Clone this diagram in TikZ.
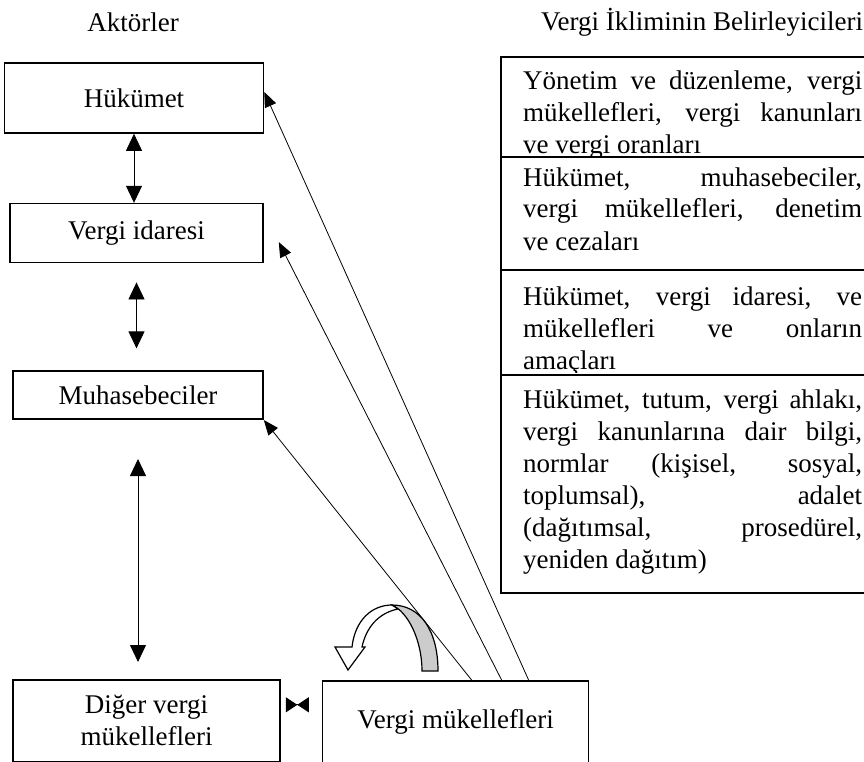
\documentclass[tikz,border=0pt]{standalone}
\usepackage{fontspec}
\setmainfont{Liberation Serif}
\usetikzlibrary{positioning}
\usetikzlibrary{arrows.meta}
\usetikzlibrary{calc}

\begin{document}
\begin{tikzpicture}[x=1pt,y=-1pt,>={Triangle[length=15pt,width=12pt]},
    font=\fontsize{27}{32}\selectfont,
    box/.style={draw,line width=1.6pt,inner sep=0pt,align=center},
    link/.style={line width=0.8pt,->},
    both/.style={line width=0.8pt,{Triangle[length=17pt,width=16pt]}-{Triangle[length=17pt,width=16pt]}},
    bow/.style={line width=0.8pt,{Triangle[reversed,length=11.5pt,width=15pt]}-{Triangle[reversed,length=11.5pt,width=15pt]}},
    cell/.style={anchor=base west,inner sep=0pt,text width=339pt,align=justify}]
    \useasboundingbox (0,0) rectangle (864,762);
    \node (T1) at (133,22) {Aktörler};
    \node (T2) at (702,22) {Vergi İkliminin Belirleyicileri};
    % actors
    \node[box,minimum width=259pt,minimum height=70pt] (H) at (134,98) {Hükümet};
    \node[box,minimum width=253pt,minimum height=59pt] (VI) [below=69pt of H,xshift=2.5pt] {Vergi idaresi};
    \node[box,minimum width=250pt,minimum height=48pt] (M) [below=107pt of VI,xshift=1.5pt] {Muhasebeciler};
    \node[box,minimum width=267pt,minimum height=82pt] (D) [below=259pt of M,xshift=8.5pt] {Diğer vergi\\mükellefleri};
    \node[box,minimum width=266pt,minimum height=82pt] (VM) [right=41pt of D,yshift=-1pt] {Vergi mükellefleri};
    \draw [both] (H.south) -- (H.south |- VI.north);
    \draw [both,shorten <=19pt,shorten >=22pt] (VI.south) -- (VI.south |- M.north);
    \draw [both,shorten <=39pt,shorten >=17pt] (M.south) -- (M.south |- D.north);
    \draw [bow] ($(D.east)+(5pt,16pt)$) -- ($(D.east)+(28pt,16pt)$);
    \draw [link] ($(VM.north)+(73pt,0pt)$) -- ([yshift=6pt]H.east);
    \draw [link] ($(VM.north)+(46pt,0pt)$) -- ([xshift=15pt,yshift=-9pt]VI.east);
    \draw [link] ($(VM.north)+(16pt,0pt)$) -- (M.south east);
    % curved arrow
    \filldraw [fill=white,line width=1.2pt] (392,605) .. controls (372,605) and (355,620) .. (352,647)
        -- (335,647) -- (348,670) -- (365,647) -- (362,647) .. controls (366,628) and (378,613) .. (398,609) -- cycle;
    \filldraw [fill=gray!40,line width=1.2pt] (438,671) .. controls (438,630) and (420,605) .. (392,605)
        .. controls (408,612) and (422,640) .. (422,671) -- cycle;
    % determinants
    \foreach \top/\bot in {57/157,157/270,270/375,375/593}
        \draw [line width=1.6pt] (501,\top) rectangle (885,\bot);
    \begin{scope}
        \clip (501,57) rectangle (885,157);
        \node [cell] (C1) at (523,90) {Yönetim ve düzenleme, vergi\linebreak mükellefleri, vergi kanunları\linebreak ve vergi oranları};
    \end{scope}
    \begin{scope}
        \clip (501,157) rectangle (885,270);
        \node [cell] (C2) at (523,186) {Hükümet, muhasebeciler,\linebreak vergi mükellefleri, denetim\linebreak ve cezaları};
    \end{scope}
    \begin{scope}
        \clip (501,270) rectangle (885,372);
        \node [cell] (C3) at (523,305) {Hükümet, vergi idaresi, ve\linebreak mükellefleri ve onların\linebreak amaçları};
    \end{scope}
    \node [cell] (C4) at (523,408) {Hükümet, tutum, vergi ahlakı,\linebreak vergi kanunlarına dair bilgi,\linebreak normlar (kişisel, sosyal,\linebreak toplumsal), adalet\linebreak (dağıtımsal, prosedürel,\linebreak yeniden dağıtım)};
\end{tikzpicture}
\end{document}
